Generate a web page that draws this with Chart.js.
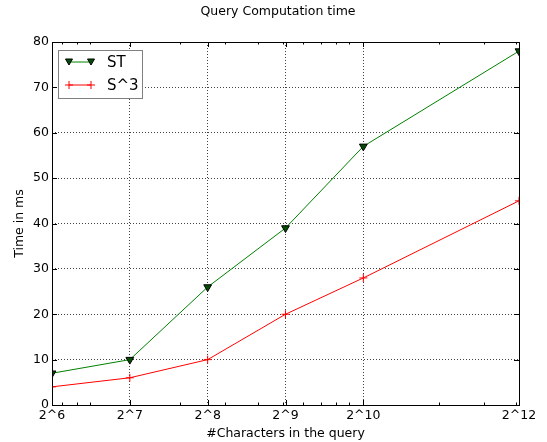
<!DOCTYPE html>
<html>
<head>
<meta charset="utf-8">
<script src="https://cdn.jsdelivr.net/npm/chart.js@4.4.0/dist/chart.umd.min.js"></script>
<style>
html,body{margin:0;padding:0;background:#fff;}
#wrap{width:547px;height:442px;position:relative;}
</style>
</head>
<body>
<div id="wrap"><canvas id="c" width="547" height="442"></canvas></div>
<script>
// ---- data ----
const xValues = [64, 128, 256, 512, 1024, 4096];
const xTickLabels = ['2^6', '2^7', '2^8', '2^9', '2^10', '2^12'];
const xMinorTicks = [70, 80, 90, 200, 300, 400, 500, 600, 700, 800, 900, 2000, 3000, 4000];
const stValues = [7, 10, 26, 39, 57, 78];
const s3Values = [4, 6, 10, 20, 28, 45];
const seriesLabels = ['ST', 'S^3'];
const titleText = 'Query Computation time';
const xTitle = '#Characters in the query';
const yTitle = 'Time in ms';

const FONT = "'DejaVu Sans', sans-serif";

const decorPlugin = {
  id: 'decor',
  afterDraw(chart) {
    const ctx = chart.ctx;
    const a = chart.chartArea;
    const xs = chart.scales.x, ys = chart.scales.y;
    ctx.save();
    // frame
    ctx.strokeStyle = '#000';
    ctx.lineWidth = 1;
    ctx.strokeRect(Math.round(a.left) + 0.5, Math.round(a.top) + 0.5, Math.round(a.right - a.left), Math.round(a.bottom - a.top));
    // tick marks (inward)
    ctx.beginPath();
    xValues.forEach(v => {
      const px = Math.round(xs.getPixelForValue(v)) + 0.5;
      ctx.moveTo(px, a.bottom); ctx.lineTo(px, a.bottom - 5);
      ctx.moveTo(px, a.top); ctx.lineTo(px, a.top + 5);
    });
    xMinorTicks.forEach(v => {
      const px = Math.round(xs.getPixelForValue(v)) + 0.5;
      ctx.moveTo(px, a.bottom); ctx.lineTo(px, a.bottom - 2.5);
      ctx.moveTo(px, a.top); ctx.lineTo(px, a.top + 2.5);
    });
    ys.ticks.forEach(t => {
      const py = Math.round(ys.getPixelForValue(t.value)) + 0.5;
      ctx.moveTo(a.left, py); ctx.lineTo(a.left + 5, py);
      ctx.moveTo(a.right, py); ctx.lineTo(a.right - 5, py);
    });
    ctx.stroke();
    // titles
    ctx.fillStyle = '#000';
    ctx.font = '12.5px ' + FONT;
    ctx.textAlign = 'center';
    ctx.textBaseline = 'middle';
    ctx.fillText(titleText, 278, 12);
    ctx.fillText(xTitle, (a.left + a.right) / 2, 434);
    ctx.save();
    ctx.translate(20, (a.top + a.bottom) / 2);
    ctx.rotate(-Math.PI / 2);
    ctx.fillText(yTitle, 0, 0);
    ctx.restore();
    // legend
    const bx = 58.5, by = 50.5, bw = 84, bh = 48;
    ctx.fillStyle = '#fff';
    ctx.fillRect(bx, by, bw, bh);
    ctx.strokeStyle = '#808080';
    ctx.lineWidth = 1;
    ctx.strokeRect(bx, by, bw, bh);
    const rows = [62, 85];
    chart.data.datasets.forEach((ds, i) => {
      const y = rows[i];
      ctx.strokeStyle = ds.borderColor;
      ctx.lineWidth = 1;
      ctx.beginPath();
      ctx.moveTo(69, y); ctx.lineTo(91, y);
      ctx.stroke();
      [69, 91].forEach(x => {
        if (ds.pointStyle === 'triangle') {
          ctx.beginPath();
          ctx.moveTo(x - 3.5, y - 3);
          ctx.lineTo(x + 3.5, y - 3);
          ctx.lineTo(x, y + 3);
          ctx.closePath();
          ctx.fillStyle = ds.pointBackgroundColor;
          ctx.fill();
          ctx.strokeStyle = '#000';
          ctx.stroke();
        } else {
          ctx.beginPath();
          ctx.moveTo(x - 4, y); ctx.lineTo(x + 4, y);
          ctx.moveTo(x, y - 4); ctx.lineTo(x, y + 4);
          ctx.strokeStyle = ds.pointBorderColor;
          ctx.stroke();
        }
      });
      ctx.fillStyle = '#000';
      ctx.font = '15px ' + FONT;
      ctx.textAlign = 'left';
      ctx.textBaseline = 'middle';
      ctx.fillText(ds.label, 107, y + 1);
    });
    ctx.restore();
  }
};

new Chart(document.getElementById('c'), {
  type: 'line',
  data: {
    datasets: [
      {
        label: seriesLabels[0],
        data: xValues.map((x, i) => ({x: x, y: stValues[i]})),
        borderColor: '#008000',
        borderWidth: 1,
        pointStyle: 'triangle',
        rotation: 180,
        radius: 4.5,
        pointBackgroundColor: '#005000',
        pointBorderColor: '#000',
        pointBorderWidth: 1,
        tension: 0,
        fill: false,
        clip: 0
      },
      {
        label: seriesLabels[1],
        data: xValues.map((x, i) => ({x: x, y: s3Values[i]})),
        borderColor: '#ff0000',
        borderWidth: 1,
        pointStyle: 'cross',
        radius: 4,
        pointBackgroundColor: '#ff0000',
        pointBorderColor: '#ff0000',
        pointBorderWidth: 1,
        tension: 0,
        fill: false,
        clip: 0
      }
    ]
  },
  options: {
    responsive: false,
    animation: false,
    devicePixelRatio: 1,
    layout: {padding: {top: 42, right: 28, left: 0, bottom: 0}},
    plugins: {legend: {display: false}, title: {display: false}, tooltip: {enabled: false}},
    scales: {
      x: {
        type: 'logarithmic',
        min: 64,
        max: 4096,
        afterBuildTicks(scale) { scale.ticks = xValues.map(v => ({value: v})); },
        afterFit(scale) { scale.height = 37; },
        ticks: {
          autoSkip: false, maxRotation: 0, minRotation: 0, padding: 3,
          color: '#000', font: {family: FONT, size: 12.5},
          callback(value) { const i = xValues.indexOf(value); return i >= 0 ? xTickLabels[i] : ''; }
        },
        grid: {color: 'rgba(0,0,0,0.75)', lineWidth: 1, drawTicks: false, tickLength: 0},
        border: {display: false, dash: [1, 2]}
      },
      y: {
        min: 0,
        max: 80,
        afterFit(scale) { scale.width = 52; },
        ticks: {stepSize: 10, padding: 3, color: '#000', font: {family: FONT, size: 12.5}},
        grid: {color: 'rgba(0,0,0,0.75)', lineWidth: 1, drawTicks: false, tickLength: 0},
        border: {display: false, dash: [1, 2]}
      }
    }
  },
  plugins: [decorPlugin]
});
</script>
</body>
</html>
